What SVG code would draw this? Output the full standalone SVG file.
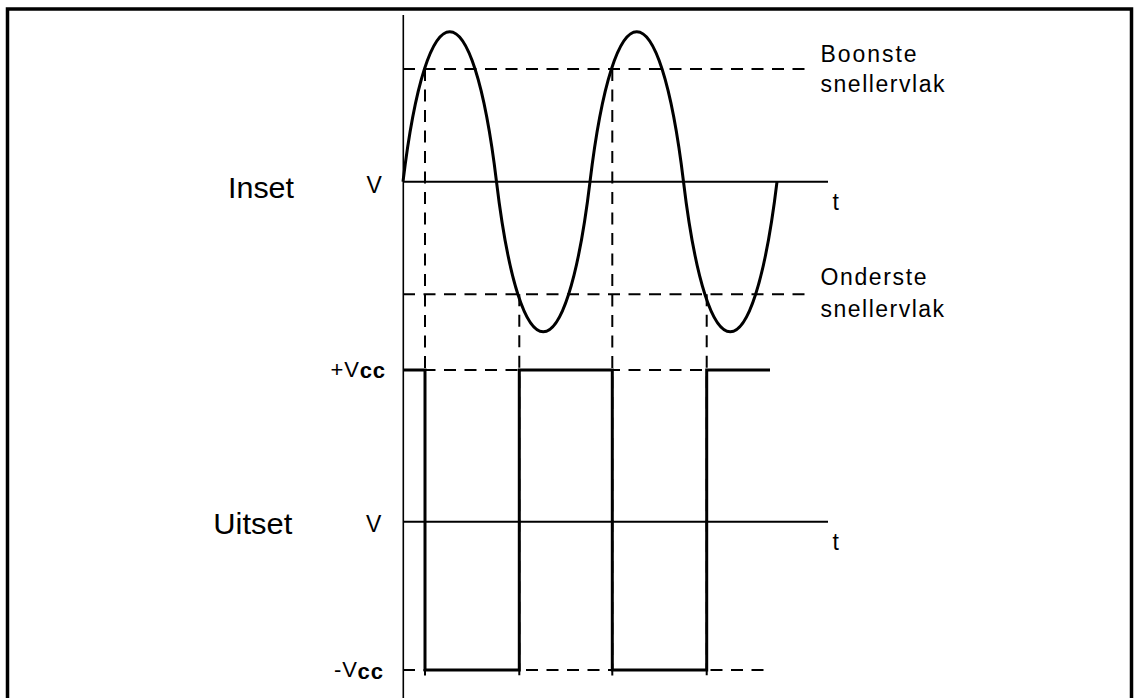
<svg xmlns="http://www.w3.org/2000/svg" width="1140" height="698" viewBox="0 0 1140 698">
<style>
text{font-family:"Liberation Sans",Arial,sans-serif;fill:#000}
.big{font-size:30px}
.lab{font-size:23px}
.vcc{font-size:22px;letter-spacing:0.8px}
.sub{font-weight:bold}
.dash{fill:none;stroke:#000;stroke-width:2;stroke-dasharray:12 8.5}
.solid{fill:none;stroke:#000;stroke-width:2}
.thick{fill:none;stroke:#000;stroke-width:3;stroke-linejoin:miter}
</style>
<rect x="7.5" y="9" width="1124" height="720" fill="#fff" stroke="#000" stroke-width="3.5"/>
<g id="axes">
<line x1="403.3" y1="15" x2="403.3" y2="698" stroke="#000" stroke-width="1.6"/>
<line class="solid" x1="403" y1="181.7" x2="828" y2="181.7"/>
<line class="solid" x1="403" y1="521.7" x2="828" y2="521.7"/>
</g>
<g id="connectors">
<line class="dash" x1="403" y1="69" x2="812" y2="69"/>
<line class="dash" x1="403" y1="294.3" x2="812" y2="294.3"/>
<line class="dash" x1="403" y1="370" x2="770" y2="370"/>
<line class="dash" x1="403" y1="670" x2="767" y2="670"/>
<line class="dash" x1="425" y1="69" x2="425" y2="683"/>
<line class="dash" x1="519.3" y1="294.3" x2="519.3" y2="683"/>
<line class="dash" x1="612.3" y1="69" x2="612.3" y2="683"/>
<line class="dash" x1="706.7" y1="294.3" x2="706.7" y2="683"/>
</g>
<g id="input-wave">
<path class="thick" d="M403,181.7 C427,-18.3 472.5,-18.3 496.5,181.7 C520.5,381.7 566,381.7 590,181.7 C614,-18.3 659.5,-18.3 683.5,181.7 C707.5,381.7 753,381.7 777,181.7"/>
</g>
<g id="output-wave">
<path class="thick" d="M403,370 H425 V670 H519.3 V370 H612.3 V670 H706.7 V370 H770"/>
</g>
<g id="label-inset">
<text class="big" x="228" y="198.3" textLength="66" lengthAdjust="spacingAndGlyphs">Inset</text>
<text class="lab" x="366.5" y="193.3">V</text>
<text class="lab" x="832.5" y="210">t</text>
</g>
<g id="label-boonste">
<text class="lab" x="820.5" y="61.7" textLength="96" lengthAdjust="spacing">Boonste</text>
<text class="lab" x="820.5" y="91.7" textLength="124" lengthAdjust="spacing">snellervlak</text>
</g>
<g id="label-onderste">
<text class="lab" x="820.5" y="285" textLength="106" lengthAdjust="spacing">Onderste</text>
<text class="lab" x="820.5" y="316.7" textLength="123.5" lengthAdjust="spacing">snellervlak</text>
</g>
<g id="label-uitset">
<text class="big" x="213.3" y="534" textLength="79" lengthAdjust="spacingAndGlyphs">Uitset</text>
<text class="lab" x="366" y="531.7">V</text>
<text class="lab" x="832.5" y="550">t</text>
</g>
<g id="label-pvcc">
<text class="vcc" x="330.5" y="376.7">+V<tspan class="sub" dy="1.6">cc</tspan></text>
</g>
<g id="label-nvcc">
<text class="vcc" x="334" y="677.3">-V<tspan class="sub" dy="1.6">cc</tspan></text>
</g>
</svg>
